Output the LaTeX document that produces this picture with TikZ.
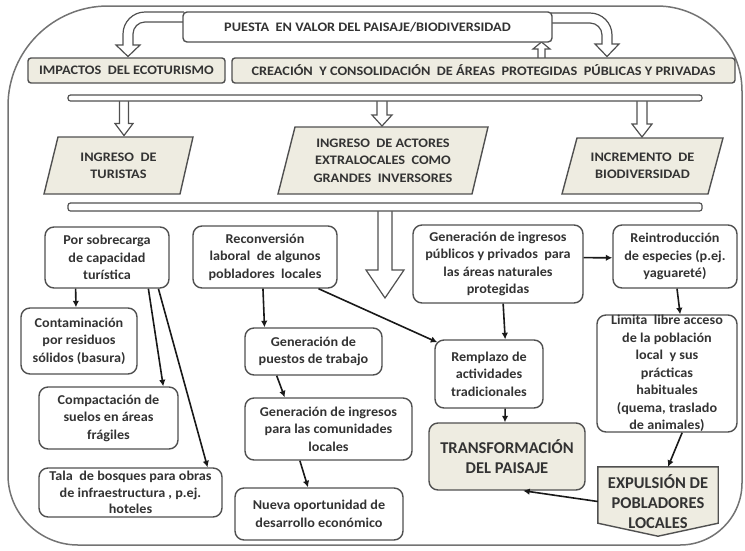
\documentclass[tikz,border=0pt]{standalone}
\usepackage{fontspec}
\setmainfont{Carlito}
\newfontfamily\capsfam[FakeStretch=1.1]{Carlito}
\newfontfamily\lowfam[FakeStretch=1.05]{Carlito}
\usetikzlibrary{arrows.meta,calc}
\definecolor{beige}{HTML}{EEECE1}
\definecolor{txt}{HTML}{333333}
\definecolor{edge}{HTML}{505050}
\newcommand\blkdown[6]{\filldraw[blkarrow] (#1-#4,#2) -- (#1-#4,#3-#6) -- (#1-#5,#3-#6) -- (#1,#3) -- (#1+#5,#3-#6) -- (#1+#4,#3-#6) -- (#1+#4,#2);}
\begin{document}
\begin{tikzpicture}[x=1pt,y=-1pt,
  frame/.style={draw=black!55, line width=1.5},
  blkarrow/.style={draw=edge, line width=1.2, fill=white},
  capsbox/.style={draw=edge, line width=1.4, inner sep=0, align=center, text=txt,
    font=\capsfam\fontsize{13}{17.5}\selectfont\bfseries},
  topbox/.style={capsbox, fill=white, rounded corners=4},
  beigebox/.style={capsbox, fill=beige, rounded corners=3},
  barbox/.style={draw=edge, line width=1.2, fill=white, rounded corners=2.5, inner sep=0},
  parabox/.style={draw=edge, line width=1.4, fill=beige},
  paratext/.style={inner sep=0, align=center, text=txt, font=\capsfam\fontsize{13}{17.5}\selectfont\bfseries},
  lowbox/.style={draw=edge, line width=1.4, fill=white, rounded corners=9, inner sep=0, align=center, text=txt,
    font=\lowfam\fontsize{13.5}{17.5}\selectfont\bfseries},
  bigbox/.style={lowbox, fill=beige, font=\fontsize{16.5}{20}\selectfont\bfseries},
  arr/.style={draw=black!90, line width=1.6, -{Latex[length=6.5pt,width=6.5pt]}}
]
\useasboundingbox (0,0) rectangle (745,550);
% outer frame
\draw[frame] (108,6) -- (657,6) .. controls (703.9,6) and (742,44.1) .. (742,91) -- (742,483)
  .. controls (742,517.2) and (714.2,545) .. (680,545) -- (78,545)
  .. controls (39.4,545) and (8,513.6) .. (8,475) -- (8,106)
  .. controls (8,50.8) and (52.8,6) .. (108,6);
% curved block arrows at top
\filldraw[blkarrow] (184,12) -- (145,12) .. controls (132.9,12) and (123,21.9) .. (123,34) -- (123,45)
  -- (116,45) -- (128,56.5) -- (140,45) -- (133,45) -- (133,34)
  .. controls (133,27.4) and (138.4,22) .. (145,22) -- (184,22);
\filldraw[blkarrow] (551,13) -- (590,13) .. controls (602.1,13) and (612,22.9) .. (612,35) -- (612,44)
  -- (619,44) -- (607,56.5) -- (595,44) -- (602,44) -- (602,35)
  .. controls (602,28.4) and (596.6,23) .. (590,23) -- (551,23);
\filldraw[blkarrow] (538,59) -- (538,49) -- (533,49) -- (541.5,42) -- (550,49) -- (545,49) -- (545,59);
% top boxes
\node[topbox, minimum width=369, minimum height=30] (puesta) at (367.5,27) {PUESTA\ \ EN VALOR DEL PAISAJE/BIODIVERSIDAD};
\node[beigebox, minimum width=197, minimum height=25] (impactos) at (126.5,70.5) {IMPACTOS\ \ DEL ECOTURISMO};
\node[beigebox, minimum width=503, minimum height=25] (creacion) at (483.5,70.5) {CREACIÓN\ \ Y CONSOLIDACIÓN\ \ DE ÁREAS\ \ PROTEGIDAS\ \ PÚBLICAS Y PRIVADAS};
% down block arrows from bar 1
\blkdown{124}{99}{135.5}{4.5}{9}{12}
\blkdown{382}{99}{126}{5}{10}{11}
\blkdown{642}{99}{137}{5}{10}{13}
\node[barbox, minimum width=634, minimum height=6] (bar1) at (385,98) {};
% parallelograms
\filldraw[parabox] (58,137) -- (193,137) -- (180,194) -- (44,194) -- cycle;
\filldraw[parabox] (295,127) -- (488,127) -- (472,194) -- (278,194) -- cycle;
\filldraw[parabox] (577,138) -- (723,138) -- (708,194) -- (562,194) -- cycle;
\node[paratext] (turistas) at (118.5,166) {INGRESO\ \ DE\\TURISTAS};
\node[paratext] (actores) at (383,160.5) {INGRESO\ \ DE ACTORES\\EXTRALOCALES\ \ COMO\\GRANDES\ \ INVERSORES};
\node[paratext] (biodiv) at (642.5,166) {INCREMENTO\ \ DE\\BIODIVERSIDAD};
% big block arrow from bar 2
\blkdown{385}{208}{298}{7}{19}{28}
\node[barbox, minimum width=634, minimum height=8] (bar2) at (385,207) {};
% lower boxes
\node[lowbox, minimum width=124, minimum height=61] (sobre) at (107,257.5) {Por sobrecarga\\de capacidad\\turística};
\node[lowbox, minimum width=144, minimum height=62] (reconv) at (265,257) {Reconversión\\laboral\ \ de algunos\\pobladores\ \ locales};
\node[lowbox, minimum width=116, minimum height=66] (contam) at (79,341) {Contaminación\\por residuos\\sólidos (basura)};
\node[lowbox, minimum width=139, minimum height=62] (compact) at (108.5,418) {Compactación de\\suelos en áreas\\frágiles};
\node[lowbox, minimum width=183, minimum height=49, font=\lowfam\fontsize{13.5}{16.5}\selectfont\bfseries] (tala) at (130.5,492.5) {Tala\ \ de bosques para obras\\de infraestructura , p.ej.\\hoteles};
\node[lowbox, minimum width=137, minimum height=47] (puestos) at (313.5,351.5) {Generación de\\puestos de trabajo};
\node[lowbox, minimum width=167, minimum height=62] (ingcom) at (328.5,429) {Generación de ingresos\\para las comunidades\\locales};
\node[lowbox, minimum width=168, minimum height=52] (nueva) at (319,514) {Nueva oportunidad de\\desarrollo económico};
\node[lowbox, minimum width=170, minimum height=78] (ingpub) at (498,264) {Generación de ingresos\\públicos y privados\ \ para\\las áreas naturales\\protegidas};
\node[lowbox, minimum width=124, minimum height=63] (reintro) at (675,256.5) {Reintroducción\\de especies (p.ej.\\yaguareté)};
\node[lowbox, minimum width=140, minimum height=117, inner ysep=-3] (limita) at (667,373.5) {Limita\ \ libre acceso\\de la población\\local\ \ y sus\\prácticas\\habituales\\(quema, traslado\\de animales)};
\node[lowbox, minimum width=108, minimum height=68] (remplazo) at (489,374) {Remplazo de\\actividades\\tradicionales};
\node[bigbox, minimum width=156, minimum height=67] (transf) at (507,456.5) {TRANSFORMACIÓN\\DEL PAISAJE};
\node[inner sep=0, minimum width=120, minimum height=69] (expul) at (658,501.5) {};
\filldraw[parabox] (expul.north west) -- (expul.north east) -- ($(expul.south east)+(0,-13)$)
  -- (expul.south) -- ($(expul.south west)+(0,-13)$) -- cycle;
\node[paratext, font=\fontsize{16.5}{20}\selectfont\bfseries] (expultext) at (expul.center) {EXPULSIÓN DE\\POBLADORES\\LOCALES};
% connectors
\draw[arr] ($(sobre.south west)!0.25!(sobre.south east)$) -- ($(contam.north west)!0.474!(contam.north east)$);
\draw[arr] ($(sobre.south west)!0.83!(sobre.south east)$) -- ($(compact.north west)!0.89!(compact.north east)$);
\draw[arr] ($(sobre.south west)!0.91!(sobre.south east)$) -- ($(tala.north west)!0.918!(tala.north east)$);
\draw[arr] ($(reconv.south west)!0.486!(reconv.south east)$) -- ($(puestos.north west)!0.146!(puestos.north east)$);
\draw[arr] ($(reconv.south west)!0.868!(reconv.south east)$) -- ($(remplazo.north west)+(3,3)$);
\draw[arr] ($(puestos.south west)!0.234!(puestos.south east)$) -- ($(ingcom.north west)!0.24!(ingcom.north east)$);
\draw[arr] ($(ingcom.south west)!0.33!(ingcom.south east)$) -- ($(nueva.north west)!0.435!(nueva.north east)$);
\draw[arr] ($(ingpub.south west)!0.53!(ingpub.south east)$) -- ($(remplazo.north west)!0.648!(remplazo.north east)$);
\draw[arr] ($(ingpub.north east)!0.42!(ingpub.south east)$) -- ($(reintro.north west)!0.52!(reintro.south west)$);
\draw[arr] ($(reintro.south west)!0.516!(reintro.south east)$) -- ($(limita.north west)!0.593!(limita.north east)$);
\draw[arr] ($(remplazo.south west)!0.648!(remplazo.south east)$) -- ($(transf.north west)!0.487!(transf.north east)$);
\draw[arr] ($(limita.south west)!0.607!(limita.south east)$) -- ($(expul.north west)!0.583!(expul.north east)$);
\draw[arr] ($(expul.north west)!0.5!(expul.south west)$) -- ($(transf.south west)!0.603!(transf.south east)$);
\end{tikzpicture}
\end{document}
